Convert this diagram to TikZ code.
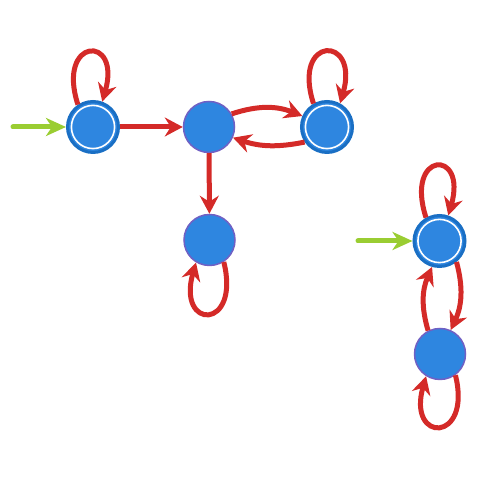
\documentclass[tikz,border=0pt]{standalone}
\usetikzlibrary{arrows.meta}
\definecolor{fillblue}{HTML}{2E86E0}
\definecolor{ringblue}{HTML}{1A6FC4}
\definecolor{rimpurple}{HTML}{7060C4}
\definecolor{edgered}{HTML}{D42A28}
\definecolor{entrygreen}{HTML}{9ACD32}

\begin{document}
\begin{tikzpicture}[
    x=1pt, y=1pt,
    vertex/.style={circle, fill=fillblue, draw=rimpurple, line width=1.5pt, minimum size=51pt, inner sep=0pt},
    accept/.style={vertex, draw=ringblue, line width=3pt,
        path picture={\draw[white, line width=1.6pt] (path picture bounding box.center) circle (21.6pt);}},
    trans/.style={draw=edgered, line width=5pt, -{Stealth[length=18pt, width=19pt, inset=6pt]}},
    entry/.style={draw=entrygreen, line width=5pt, line cap=round, -{Stealth[length=20pt, width=18pt, inset=6pt]}}
]
\useasboundingbox (0,0) rectangle (490,486);

% Left group of states
\node[accept] (qa) at (93,359) {};
\node[vertex] (qb) at (209,359) {};
\node[accept] (qc) at (327,359) {};
\node[vertex] (qd) at (209.5,246) {};

% Right group of states
\node[accept] (qe) at (439.5,245) {};
\node[vertex] (qf) at (440,132) {};

% Free ends of the entry arrows
\coordinate (sa) at (13,359);
\coordinate (se) at (358,245);

% Entry arrows
\draw[entry] (sa) -- (qa);
\draw[entry] (se) -- (qe);

% Transitions of the left group
\draw[trans] (qa) -- (qb);
\draw[trans] (qb) -- (qd);
\draw[trans] (qb.30) to[bend left=20] (qc.156);
\draw[trans] (qc.-146) to[bend left=15] (qb.-24);

% Loops of the left group
\draw[trans] (qa.124) to[out=108, in=74, looseness=7.4] (qa.70);
\draw[trans] (qc.120) to[out=108, in=74, looseness=6.9] (qc.61);
\draw[trans] (qd.-57) to[out=-76, in=-106, looseness=6.5] (qd.-121);

% Transitions of the right group
\draw[trans] (qe.-51) to[bend left=20] (qf.66);
\draw[trans] (qf.117) to[bend left=20] (qe.-106);

% Loops of the right group
\draw[trans] (qe.120) to[out=108, in=74, looseness=8] (qe.71);
\draw[trans] (qf.-54) to[out=-76, in=-106, looseness=6.1] (qf.-122);

\end{tikzpicture}
\end{document}
